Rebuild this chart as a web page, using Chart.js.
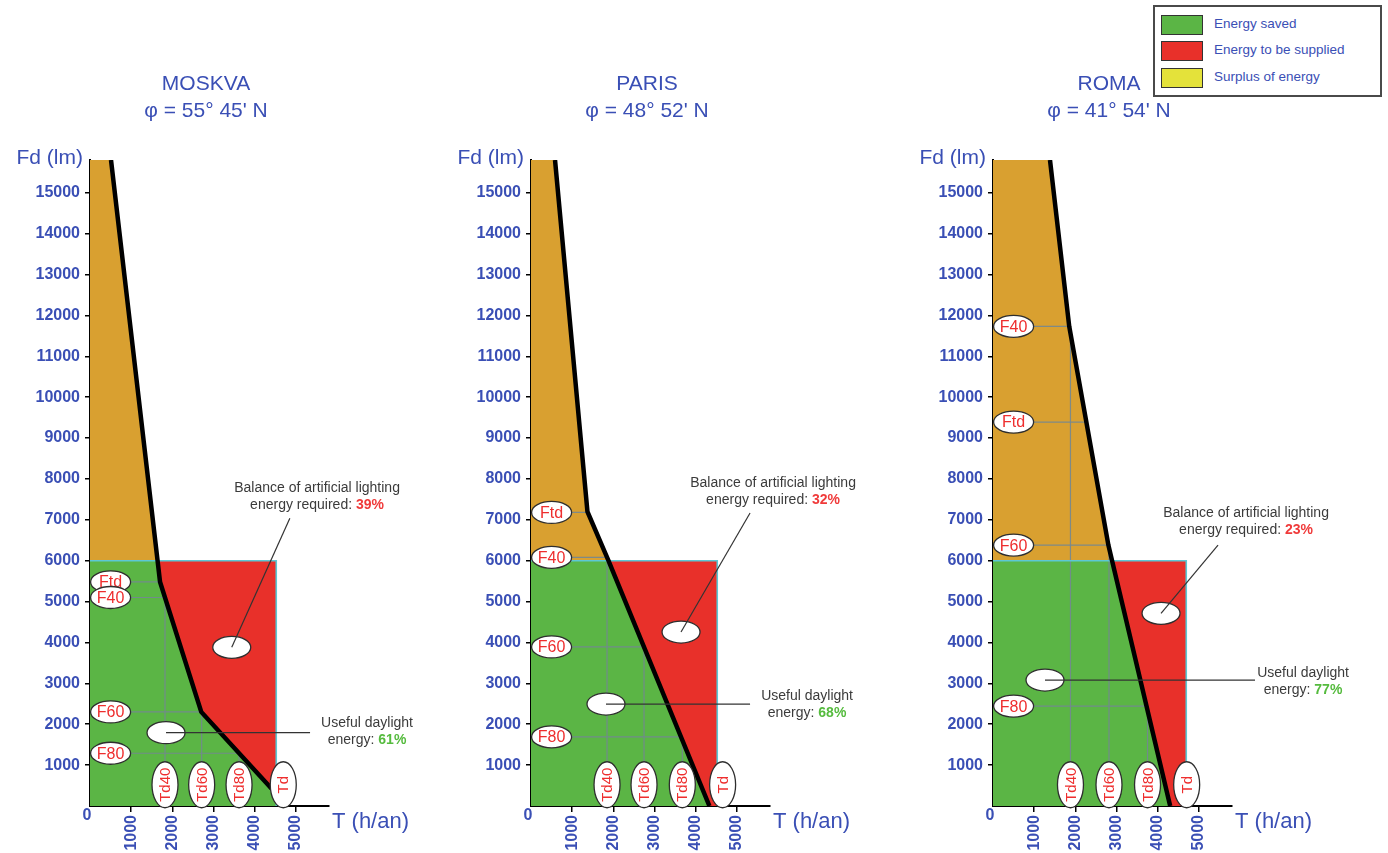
<!DOCTYPE html>
<html><head><meta charset="utf-8">
<script src="https://cdn.jsdelivr.net/npm/chart.js@4.4.1/dist/chart.umd.min.js"></script>
<style>
body{margin:0;background:#fff;}
#wrap{position:relative;width:1388px;height:853px;overflow:hidden;font-family:"Liberation Sans",Arial,sans-serif;background:#fff;}
canvas{position:absolute;top:0;}
#legend{position:absolute;left:1153px;top:5px;width:225px;height:88px;border:2px solid #4a4a4a;background:#fff;z-index:5;}
.sw{position:absolute;left:6px;width:40px;height:18px;border:1.5px solid #333;}
.lt{position:absolute;left:59px;white-space:nowrap;font-size:13.5px;line-height:20px;color:#3a4fb5;}
</style></head>
<body>
<div id="wrap">
  <canvas id="c0" width="440" height="853" style="left:0px"></canvas>
  <canvas id="c1" width="465" height="853" style="left:440px"></canvas>
  <canvas id="c2" width="483" height="853" style="left:905px"></canvas>
  <div id="legend"></div>
</div>
<script>
// ---------------- DATA ----------------
const cityNames = ['MOSKVA', 'PARIS', 'ROMA'];
const latitudeLabels = ["\u03C6 = 55\u00B0 45' N", "\u03C6 = 48\u00B0 52' N", "\u03C6 = 41\u00B0 54' N"];
const yTickValues = [1000,2000,3000,4000,5000,6000,7000,8000,9000,10000,11000,12000,13000,14000,15000];
const xTickValues = [1000,2000,3000,4000,5000];
const yAxisTitle = 'Fd (lm)';
const xAxisTitle = 'T (h/an)';

// daylight curve: T (h/an) against Fd (lm)
const curveT_Moskva = [510, 1640, 1700, 2700, 4420];
const curveF_Moskva = [15800, 6000, 5480, 2300, 410];
const curveT_Paris  = [583, 1370, 1880, 4330];
const curveF_Paris  = [15800, 7200, 6000, 0];
const curveT_Roma   = [1383, 1850, 2800, 2890, 4300];
const curveF_Roma   = [15800, 11730, 6380, 6000, 0];

const fdRequired = 6000;              // lm, top of the red / green block
const tOccupancy = [4520, 4520, 4690]; // h/an, right edge of the block

const fLabelNames = ['Ftd', 'F40', 'F60', 'F80'];
const fValues_Moskva = [5480, 5100, 2300, 1290];
const fValues_Paris  = [7180, 6080, 3890, 1690];
const fValues_Roma   = [9390, 11730, 6380, 2443];

const tdLabelNames = ['Td', 'Td40', 'Td60', 'Td80'];
const tdValues_Moskva = [4690, 1820, 2710, 3617];
const tdValues_Paris  = [4650, 1845, 2743, 3672];
const tdValues_Roma   = [4700, 1880, 2815, 3750];

const balancePct = [39, 32, 23];
const usefulPct  = [61, 68, 77];

const legendLabels = ['Energy saved', 'Energy to be supplied', 'Surplus of energy'];

// ---------------- LAYOUT / STYLE ----------------
const curves = [
  {T: curveT_Moskva, F: curveF_Moskva},
  {T: curveT_Paris,  F: curveF_Paris},
  {T: curveT_Roma,   F: curveF_Roma}
];
const fValues = [fValues_Moskva, fValues_Paris, fValues_Roma];
const tdValues = [tdValues_Moskva, tdValues_Paris, tdValues_Roma];

// annotation anchors (in data units, converted through the scales)
const annot = [
  {bal:{e:[3440,3880], l:[4850,7040], t:[5510,7777]}, use:{e:[1845,1793], lx:5340, t:[6723,2030]}},
  {bal:{e:[3641,4255], l:[5316,7166], t:[5874,7899]}, use:{e:[1820,2494], lx:5316, t:[6699,2690]}},
  {bal:{e:[4078,4713], l:[5461,6383], t:[6141,7166]}, use:{e:[1262,3081], lx:6359, t:[7524,3253]}}
];
const fLabelT = 500;   // x position of F labels (h/an)
const tdLabelF = 520;  // y position of Td labels (lm)

const yAxisWidth = [90, 91, 88];
const rightPad   = [111, 135, 156];
const BLUE = '#3a4fb5';
const RED_TXT = '#ee2e2e';
const FONT = '"Liberation Sans", Arial, sans-serif';
const C_ORANGE = '#d9a030', C_GREEN = '#5bb545', C_RED = '#e8302a', C_YELLOW = '#e4e23a';
const C_CYAN = '#5cc8d4', C_GUIDE = 'rgba(115,135,145,0.9)';

// legend (HTML)
(function(){
  const lg = document.getElementById('legend');
  const cols = [C_GREEN, C_RED, C_YELLOW];
  const tops = [8, 34, 61];
  legendLabels.forEach((t, k) => {
    const s = document.createElement('div'); s.className = 'sw';
    s.style.top = tops[k] + 'px'; s.style.background = cols[k]; lg.appendChild(s);
    const l = document.createElement('div'); l.className = 'lt';
    l.style.top = (tops[k] - 1) + 'px'; l.textContent = t; lg.appendChild(l);
  });
})();

function interpT(c, f) {
  for (let j = 0; j < c.F.length - 1; j++) {
    const f0 = c.F[j], f1 = c.F[j+1];
    if ((f <= f0 && f >= f1) || (f >= f0 && f <= f1)) {
      if (f0 === f1) return c.T[j];
      return c.T[j] + (f - f0) / (f1 - f0) * (c.T[j+1] - c.T[j]);
    }
  }
  return c.T[c.T.length - 1];
}

function decoPlugin(i) {
  return {
    id: 'deco' + i,
    afterDraw(chart) {
      const ctx = chart.ctx, xs = chart.scales.x, ys = chart.scales.y, ca = chart.chartArea;
      const X = v => xs.getPixelForValue(v), Y = v => ys.getPixelForValue(v);
      ctx.save();
      // titles
      ctx.fillStyle = BLUE; ctx.textAlign = 'center'; ctx.textBaseline = 'middle';
      ctx.font = '21px ' + FONT;
      const cx = ca.left + 116;
      ctx.fillText(cityNames[i], cx, 84);
      ctx.fillText(latitudeLabels[i], cx, 111);
      // axis titles
      ctx.textAlign = 'right';
      ctx.fillText(yAxisTitle, X(0) - 7, ca.top - 2);
      ctx.textAlign = 'left'; ctx.font = '22px ' + FONT;
      ctx.fillText(xAxisTitle, ca.right + 3, ca.bottom + 16);
      ctx.textAlign = 'center'; ctx.font = 'bold 16px ' + FONT;
      ctx.fillText('0', X(0) - 3, ca.bottom + 10);

      function ell(x, y, rx, ry) {
        ctx.beginPath(); ctx.ellipse(x, y, rx, ry, 0, 0, Math.PI * 2);
        ctx.fillStyle = '#fff'; ctx.fill();
        ctx.lineWidth = 1.3; ctx.strokeStyle = '#2e2e2e'; ctx.stroke();
      }
      // F labels
      fValues[i].forEach((f, k) => {
        const x = X(fLabelT), y = Y(f);
        ell(x, y, 20, 11);
        ctx.fillStyle = RED_TXT; ctx.font = '16px ' + FONT; ctx.textAlign = 'center'; ctx.textBaseline = 'middle';
        ctx.fillText(fLabelNames[k], x, y + 1);
      });
      // Td labels
      tdValues[i].forEach((t, k) => {
        const x = X(t), y = Y(tdLabelF);
        ell(x, y, 13, 23);
        ctx.save(); ctx.translate(x + 1, y); ctx.rotate(-Math.PI / 2);
        ctx.fillStyle = RED_TXT; ctx.font = '15px ' + FONT; ctx.textAlign = 'center'; ctx.textBaseline = 'middle';
        ctx.fillText(tdLabelNames[k], 0, 0);
        ctx.restore();
      });
      // annotations
      const a = annot[i];
      function twoLines(tx, ty, l1, l2, pct, col) {
        ctx.textBaseline = 'middle'; ctx.fillStyle = '#3b3b3b';
        ctx.font = '14px ' + FONT; ctx.textAlign = 'center';
        ctx.fillText(l1, tx, ty);
        ctx.textAlign = 'left';
        const w1 = ctx.measureText(l2).width;
        ctx.font = 'bold 14px ' + FONT;
        const w2 = ctx.measureText(pct).width;
        const sx = tx - (w1 + w2) / 2;
        ctx.font = '14px ' + FONT; ctx.fillStyle = '#3b3b3b';
        ctx.fillText(l2, sx, ty + 17);
        ctx.font = 'bold 14px ' + FONT; ctx.fillStyle = col;
        ctx.fillText(pct, sx + w1, ty + 17);
      }
      // balance
      ell(X(a.bal.e[0]), Y(a.bal.e[1]), 19, 11);
      ctx.beginPath(); ctx.moveTo(X(a.bal.e[0]), Y(a.bal.e[1])); ctx.lineTo(X(a.bal.l[0]), Y(a.bal.l[1]));
      ctx.strokeStyle = '#333'; ctx.lineWidth = 1.2; ctx.stroke();
      twoLines(X(a.bal.t[0]), Y(a.bal.t[1]), 'Balance of artificial lighting', 'energy required: ', balancePct[i] + '%', '#f03a3a');
      // useful
      ell(X(a.use.e[0]), Y(a.use.e[1]), 19, 11);
      ctx.beginPath(); ctx.moveTo(X(a.use.e[0]), Y(a.use.e[1])); ctx.lineTo(X(a.use.lx), Y(a.use.e[1]));
      ctx.strokeStyle = '#333'; ctx.lineWidth = 1.2; ctx.stroke();
      twoLines(X(a.use.t[0]), Y(a.use.t[1]), 'Useful daylight', 'energy: ', usefulPct[i] + '%', '#55bb3e');
      ctx.restore();
    }
  };
}

function pts(T, F) { return T.map((t, k) => ({x: t, y: F[k]})); }

function makeChart(i) {
  const c = curves[i];
  const all = pts(c.T, c.F);
  const upper = [{x: 0, y: 15800}].concat(all.filter(p => p.y >= fdRequired));
  const lower = [{x: 0, y: fdRequired}].concat(all.filter(p => p.y <= fdRequired));
  if (lower[lower.length - 1].y > 0) lower.push({x: tOccupancy[i], y: 0});
  const fill = (data, color, target, order) => ({data, backgroundColor: color, borderWidth: 0, borderColor: 'rgba(0,0,0,0)', fill: target, pointRadius: 0, order});
  const ds = [
    {data: all, borderColor: '#000', borderWidth: 4.5, fill: false, pointRadius: 0, order: 0},
    {data: [{x: 0, y: fdRequired}, {x: tOccupancy[i], y: fdRequired}, {x: tOccupancy[i], y: 0}], borderColor: C_CYAN, borderWidth: 1.6, fill: false, pointRadius: 0, order: 1},
    fill(upper, C_ORANGE, {value: fdRequired}, 5),
    fill(lower, C_GREEN, 'origin', 6),
    fill([{x: 0, y: fdRequired}, {x: tOccupancy[i], y: fdRequired}], C_RED, 'origin', 7)
  ];
  fValues[i].forEach((f, k) => {
    const cross = interpT(c, f);
    ds.push({data: [{x: fLabelT, y: f}, {x: cross, y: f}], borderColor: C_GUIDE, borderWidth: 1.2, fill: false, pointRadius: 0, order: 2});
    if (k > 0) {
      const td = tdValues[i][k];
      ds.push({data: [{x: td, y: f}, {x: td, y: 0}], borderColor: C_GUIDE, borderWidth: 1.2, fill: false, pointRadius: 0, order: 2});
    }
  });
  const tickFont = {family: FONT, size: 16, weight: 'bold'};
  new Chart(document.getElementById('c' + i), {
    type: 'line',
    data: {datasets: ds},
    options: {
      responsive: false, animation: false, devicePixelRatio: 1,
      parsing: true,
      layout: {padding: {top: 160, right: rightPad[i], left: 0, bottom: 0}},
      plugins: {legend: {display: false}, tooltip: {enabled: false}, title: {display: false}},
      elements: {line: {tension: 0}},
      scales: {
        x: {
          type: 'linear', min: 0, max: 5800, z: 1,
          afterBuildTicks: s => { s.ticks = xTickValues.map(v => ({value: v})); },
          afterFit: s => { s.height = 47; },
          grid: {display: true, drawOnChartArea: false, drawTicks: true, tickLength: 6, color: '#000', lineWidth: 1.5},
          border: {display: true, color: '#000', width: 2},
          ticks: {minRotation: 90, maxRotation: 90, autoSkip: false, color: BLUE, font: tickFont, padding: 3, callback: v => String(v)}
        },
        y: {
          type: 'linear', min: 0, max: 15800, z: 1,
          afterBuildTicks: s => { s.ticks = yTickValues.map(v => ({value: v})); },
          afterFit: s => { s.width = yAxisWidth[i]; },
          grid: {display: true, drawOnChartArea: false, drawTicks: true, tickLength: 5, color: '#000', lineWidth: 1.5},
          border: {display: true, color: '#000', width: 2},
          ticks: {autoSkip: false, color: BLUE, font: tickFont, padding: 5, callback: v => String(v)}
        }
      }
    },
    plugins: [decoPlugin(i)]
  });
}
[0, 1, 2].forEach(makeChart);
</script>
</body></html>
